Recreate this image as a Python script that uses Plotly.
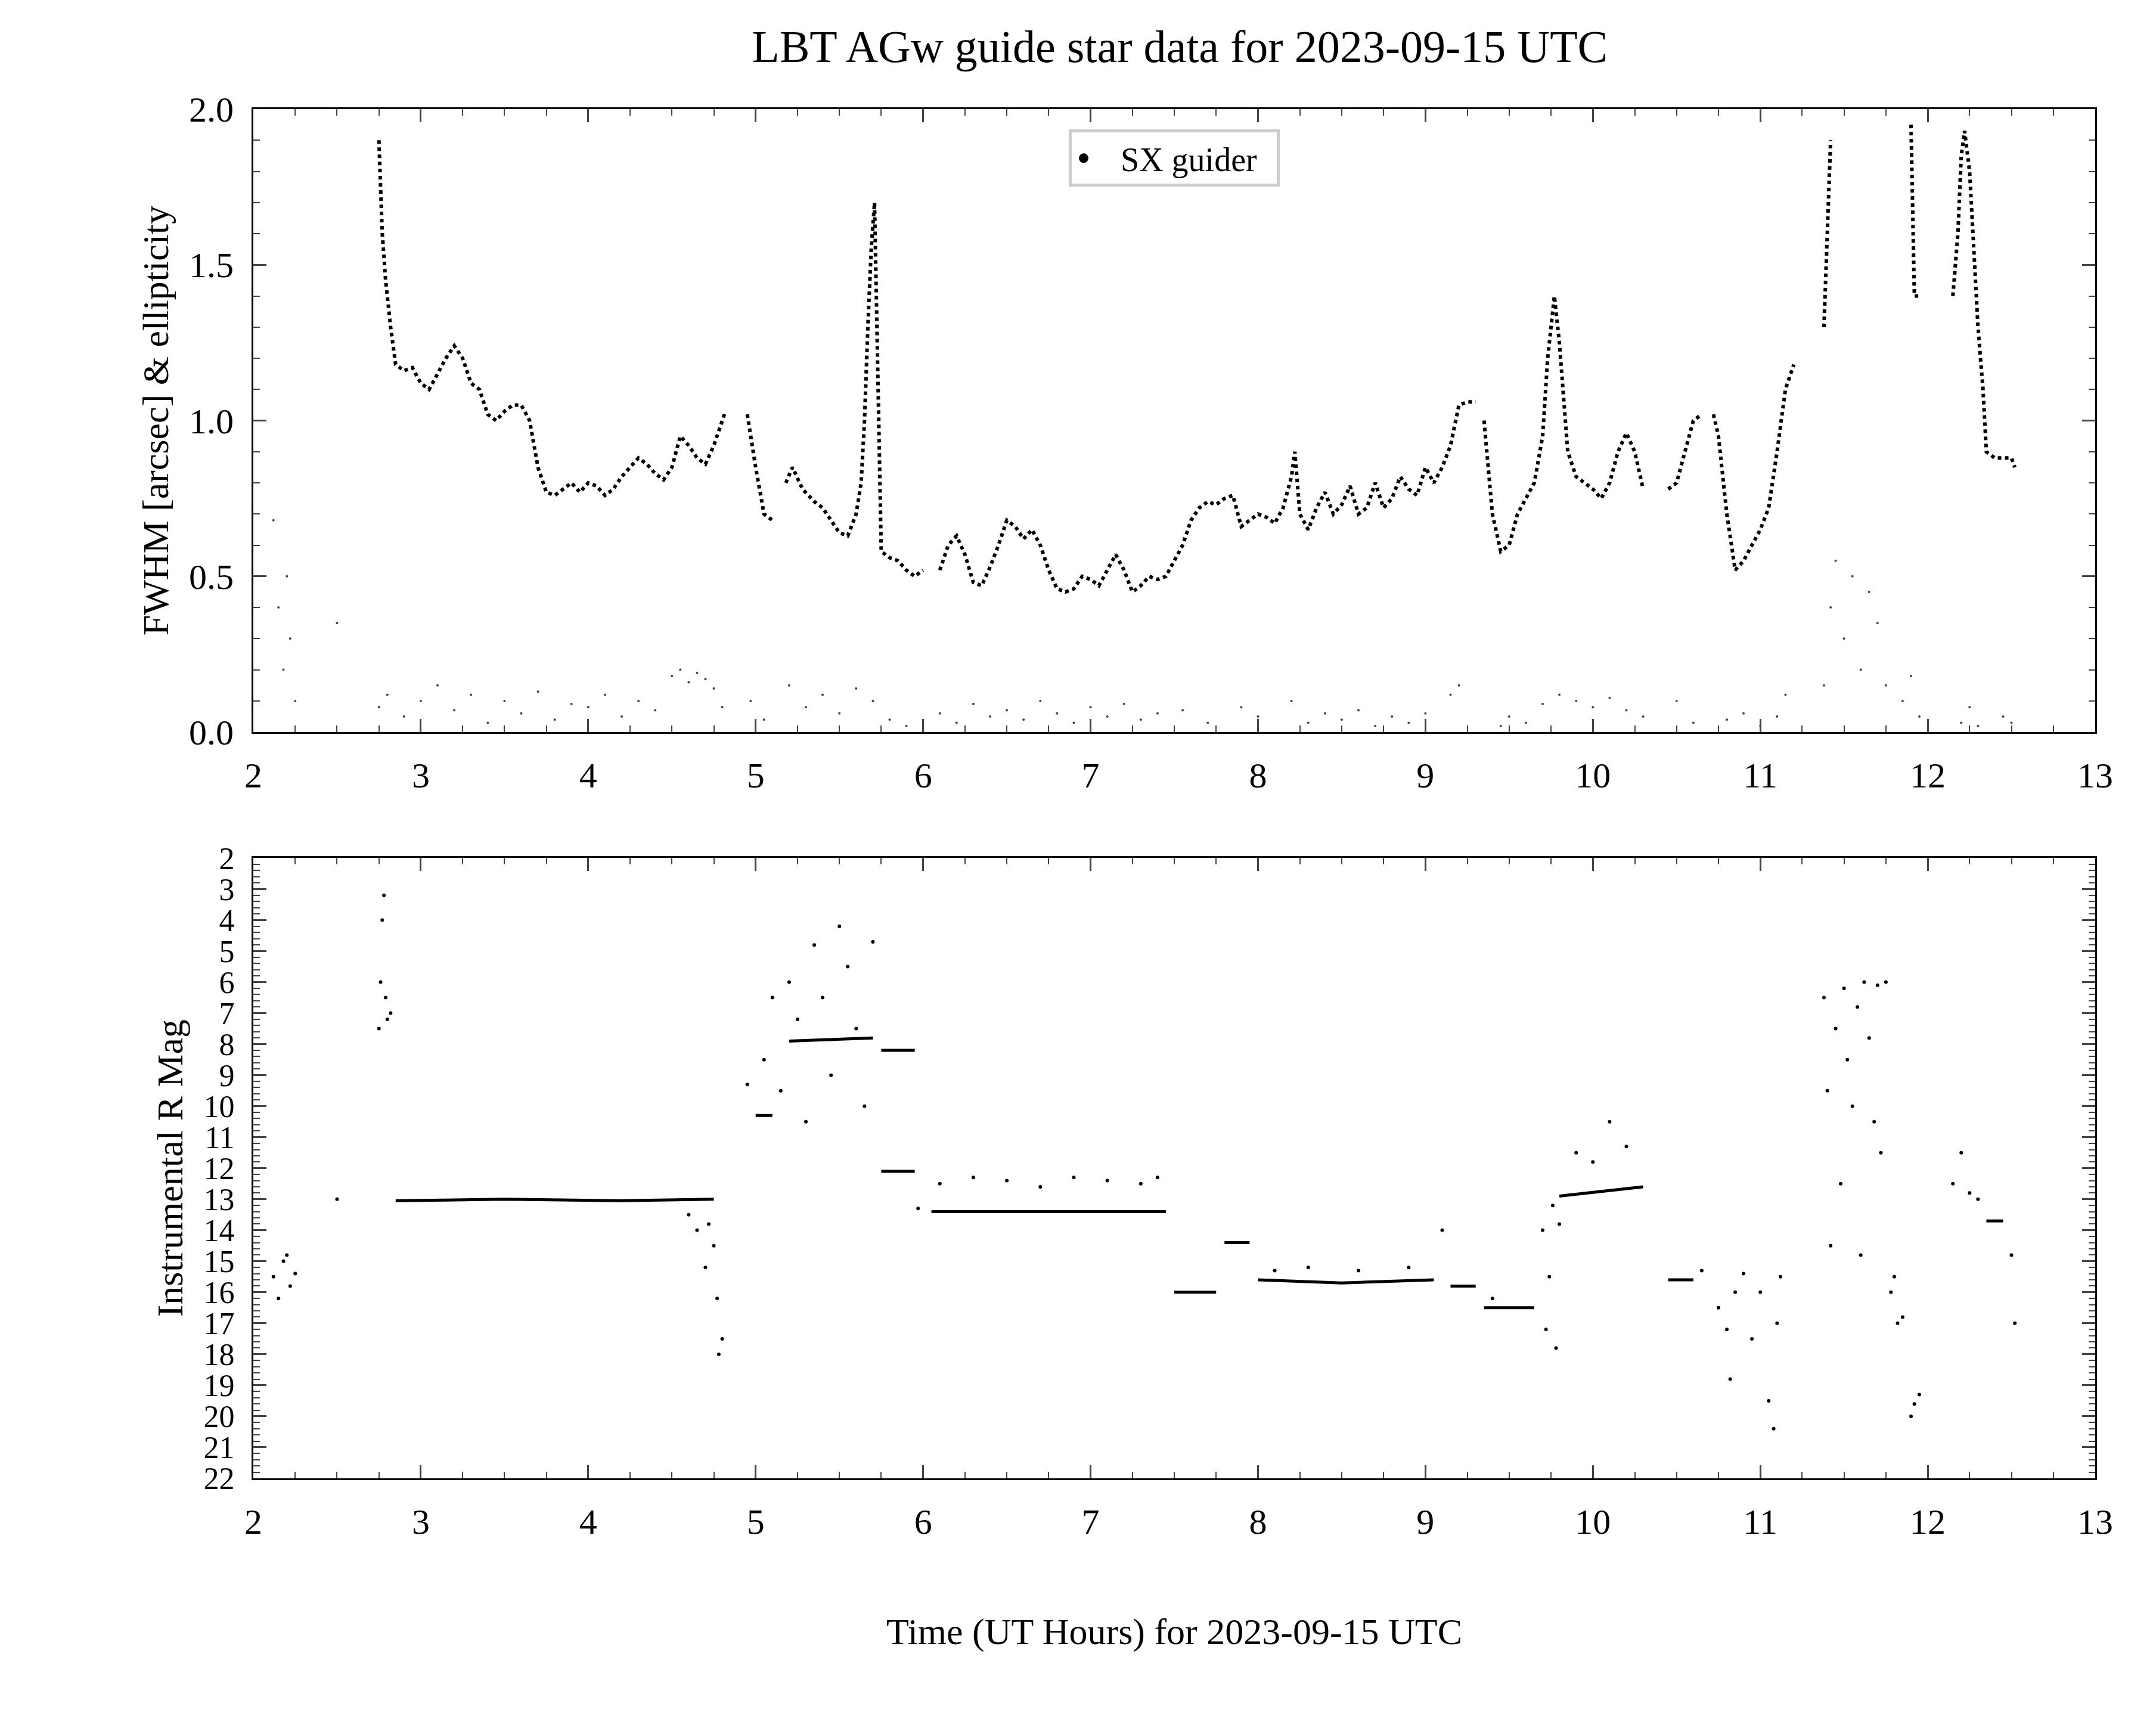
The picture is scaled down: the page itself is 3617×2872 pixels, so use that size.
import plotly.graph_objects as go
from plotly.subplots import make_subplots

# FWHM curve (UT hours, arcsec); None marks gaps
fwhm_t = [2.75, 2.77, 2.79, 2.82, 2.85, 2.9, 2.95, 3.0, 3.05, 3.1, 3.15, 3.2, 3.25, 3.3, 3.35, 3.4, 3.45, 3.5,
          3.55, 3.6, 3.65, 3.7, 3.75, 3.8, 3.85, 3.9, 3.95, 4.0, 4.05, 4.1, 4.15, 4.2, 4.25, 4.3, 4.35, 4.4,
          4.45, 4.5, 4.55, 4.6, 4.65, 4.7, 4.75, 4.8, 4.82, None,
          4.95, 5.0, 5.05, 5.1, None,
          5.18, 5.22, 5.28, 5.35, 5.4, 5.45, 5.5, 5.55, 5.6, 5.63, 5.65, 5.67, 5.69, 5.71, 5.73, 5.75, 5.8,
          5.85, 5.9, 5.95, 6.0, None,
          6.1, 6.15, 6.2, 6.25, 6.3, 6.35, 6.4, 6.45, 6.5, 6.55, 6.6, 6.65, 6.7, 6.75, 6.8, 6.85, 6.9, 6.95,
          7.0, 7.05, 7.1, 7.15, 7.2, 7.25, 7.3, 7.35, 7.4, 7.45, 7.5, 7.55, 7.6, 7.65, 7.7, 7.75, 7.8, 7.85,
          7.9, 7.95, 8.0, 8.05, 8.1, 8.15, 8.2, 8.22, 8.25, 8.3, 8.35, 8.4, 8.45, 8.5, 8.55, 8.6, 8.65, 8.7,
          8.75, 8.8, 8.85, 8.9, 8.95, 9.0, 9.05, 9.1, 9.15, 9.2, 9.25, 9.3, None,
          9.35, 9.4, 9.45, 9.5, 9.55, 9.6, 9.65, 9.7, 9.73, 9.77, 9.8, 9.85, 9.9, 9.95, 10.0, 10.05, 10.1,
          10.15, 10.2, 10.25, 10.3, None,
          10.45, 10.5, 10.55, 10.6, 10.65, None, 10.72, 10.75, 10.8, 10.85, 10.9, 10.95, 11.0, 11.05, 11.1,
          11.15, 11.2, None,
          11.38, 11.4, 11.42, None, 11.9, 11.92, 11.95, None,
          12.15, 12.18, 12.2, 12.22, 12.25, 12.3, 12.33, 12.35, 12.4, 12.45, 12.5, 12.52]
fwhm = [1.9, 1.6, 1.45, 1.3, 1.18, 1.16, 1.17, 1.12, 1.1, 1.15, 1.2, 1.24, 1.2, 1.12, 1.1, 1.02, 1.0, 1.03,
        1.05, 1.05, 1.0, 0.85, 0.77, 0.76, 0.78, 0.8, 0.77, 0.8, 0.79, 0.76, 0.78, 0.82, 0.85, 0.88, 0.86, 0.83,
        0.81, 0.85, 0.95, 0.92, 0.88, 0.86, 0.92, 1.0, 1.03, None,
        1.02, 0.85, 0.7, 0.68, None,
        0.8, 0.85, 0.78, 0.74, 0.72, 0.68, 0.64, 0.63, 0.7, 0.8, 1.0, 1.3, 1.55, 1.7, 1.2, 0.58, 0.56,
        0.55, 0.52, 0.5, 0.52, None,
        0.52, 0.6, 0.63, 0.57, 0.48, 0.47, 0.53, 0.6, 0.68, 0.66, 0.62, 0.65, 0.6, 0.52, 0.46, 0.45, 0.46, 0.5,
        0.49, 0.47, 0.52, 0.57, 0.52, 0.45, 0.47, 0.5, 0.49, 0.5, 0.55, 0.6, 0.68, 0.72, 0.74, 0.73, 0.75, 0.76,
        0.66, 0.68, 0.7, 0.69, 0.67, 0.72, 0.82, 0.9, 0.7, 0.65, 0.72, 0.77, 0.7, 0.73, 0.79, 0.7, 0.72, 0.8,
        0.72, 0.75, 0.82, 0.78, 0.76, 0.85, 0.8, 0.85, 0.92, 1.05, 1.06, 1.06, None,
        1.0, 0.7, 0.58, 0.6, 0.7, 0.75, 0.8, 0.95, 1.2, 1.4, 1.25, 0.9, 0.82, 0.8, 0.78, 0.75, 0.8,
        0.9, 0.96, 0.9, 0.78, None,
        0.78, 0.8, 0.9, 1.0, 1.02, None, 1.02, 0.95, 0.7, 0.52, 0.55, 0.6, 0.65, 0.72, 0.9,
        1.1, 1.18, None,
        1.3, 1.6, 1.9, None, 1.95, 1.4, 1.4, None,
        1.4, 1.6, 1.85, 1.93, 1.8, 1.3, 1.1, 0.9, 0.88, 0.88, 0.88, 0.85]

# ellipticity (grey points)
ell_t = [2.12, 2.15, 2.18, 2.2, 2.22, 2.25, 2.5, 2.75, 2.8, 2.9, 3.0, 3.1, 3.2, 3.3, 3.4, 3.5, 3.6, 3.7, 3.8,
         3.9, 4.0, 4.1, 4.2, 4.3, 4.4, 4.5, 4.55, 4.6, 4.65, 4.7, 4.75, 4.8, 4.97, 5.05, 5.2, 5.3, 5.4, 5.5,
         5.6, 5.7, 5.8, 5.9, 6.1, 6.2, 6.3, 6.4, 6.5, 6.6, 6.7, 6.8, 6.9, 7.0, 7.1, 7.2, 7.3, 7.4, 7.55, 7.7,
         7.9, 8.0, 8.2, 8.3, 8.4, 8.5, 8.6, 8.7, 8.8, 8.9, 9.0, 9.15, 9.2, 9.45, 9.5, 9.6, 9.7, 9.8, 9.9, 10.0,
         10.1, 10.2, 10.3, 10.5, 10.6, 10.8, 10.9, 11.0, 11.1, 11.15, 11.38, 11.42, 11.45, 11.5, 11.55, 11.6,
         11.65, 11.7, 11.75, 11.85, 11.9, 11.95, 12.2, 12.25, 12.3, 12.45, 12.5]
ell = [0.68, 0.4, 0.2, 0.5, 0.3, 0.1, 0.35, 0.08, 0.12, 0.05, 0.1, 0.15, 0.07, 0.12, 0.03, 0.1, 0.06, 0.13, 0.04,
       0.09, 0.08, 0.12, 0.05, 0.1, 0.07, 0.18, 0.2, 0.16, 0.19, 0.17, 0.14, 0.08, 0.1, 0.04, 0.15, 0.08, 0.12, 0.06,
       0.14, 0.1, 0.04, 0.02, 0.06, 0.03, 0.09, 0.05, 0.07, 0.04, 0.1, 0.06, 0.03, 0.08, 0.05, 0.09, 0.04, 0.06, 0.07,
       0.03, 0.08, 0.05, 0.1, 0.03, 0.06, 0.04, 0.07, 0.02, 0.05, 0.03, 0.06, 0.12, 0.15, 0.02, 0.05, 0.03, 0.09,
       0.12, 0.1, 0.08, 0.11, 0.07, 0.05, 0.1, 0.03, 0.04, 0.06, 0.02, 0.05, 0.12, 0.15, 0.4, 0.55, 0.3, 0.5, 0.2,
       0.45, 0.35, 0.15, 0.1, 0.18, 0.05, 0.03, 0.08, 0.02, 0.05, 0.03]

# instrumental magnitude: steady runs (lines, None = gap)
mag_base_t = [2.85, 3.5, 4.2, 4.75, None, 5.0, 5.1, None, 5.2, 5.7, None, 5.75, 5.95, None, 5.75, 5.95, None,
              6.05, 7.45, None, 7.5, 7.75, None, 7.8, 7.95, None, 8.0, 8.5, 9.05, None, 9.15, 9.3, None,
              9.35, 9.65, None, 9.8, 10.3, None, 10.45, 10.6, None, 12.35, 12.45]
mag_base = [13.05, 13.0, 13.05, 13.0, None, 10.3, 10.3, None, 7.9, 7.8, None, 8.2, 8.2, None, 12.1, 12.1, None,
            13.4, 13.4, None, 16.0, 16.0, None, 14.4, 14.4, None, 15.6, 15.7, 15.6, None, 15.8, 15.8, None,
            16.5, 16.5, None, 12.9, 12.6, None, 15.6, 15.6, None, 13.7, 13.7]
# scattered magnitude points
mag_t = [2.12, 2.15, 2.18, 2.2, 2.22, 2.25, 2.5, 2.75, 2.76, 2.77, 2.78, 2.79, 2.8, 2.82, 4.6, 4.65, 4.7, 4.72,
         4.75, 4.77, 4.78, 4.8, 4.95, 5.05, 5.1, 5.15, 5.2, 5.25, 5.3, 5.35, 5.4, 5.45, 5.5, 5.55, 5.6, 5.65,
         5.7, 5.97, 6.1, 6.3, 6.5, 6.7, 6.9, 7.1, 7.3, 7.4, 8.1, 8.3, 8.6, 8.9, 9.1, 9.4, 9.7, 9.72, 9.74,
         9.76, 9.78, 9.8, 9.9, 10.0, 10.1, 10.2, 10.65, 10.75, 10.8, 10.82, 10.85, 10.9, 10.95, 11.0, 11.05,
         11.08, 11.1, 11.12, 11.38, 11.4, 11.42, 11.45, 11.48, 11.5, 11.52, 11.55, 11.58, 11.6, 11.62, 11.65,
         11.68, 11.7, 11.72, 11.75, 11.78, 11.8, 11.82, 11.85, 11.9, 11.92, 11.95, 12.15, 12.2, 12.25, 12.3,
         12.5, 12.52]
mag = [15.5, 16.2, 15.0, 14.8, 15.8, 15.4, 13.0, 7.5, 6.0, 4.0, 3.2, 6.5, 7.2, 7.0, 13.5, 14.0, 15.2, 13.8,
       14.5, 16.2, 18.0, 17.5, 9.3, 8.5, 6.5, 9.5, 6.0, 7.2, 10.5, 4.8, 6.5, 9.0, 4.2, 5.5, 7.5, 10.0,
       4.7, 13.3, 12.5, 12.3, 12.4, 12.6, 12.3, 12.4, 12.5, 12.3, 15.3, 15.2, 15.3, 15.2, 14.0, 16.2, 14.0,
       17.2, 15.5, 13.2, 17.8, 13.8, 11.5, 11.8, 10.5, 11.3, 15.3, 16.5, 17.2, 18.8, 16.0, 15.4, 17.5, 16.0,
       19.5, 20.4, 17.0, 15.5, 6.5, 9.5, 14.5, 7.5, 12.5, 6.2, 8.5, 10.0, 6.8, 14.8, 6.0, 7.8, 10.5, 6.1,
       11.5, 6.0, 16.0, 15.5, 17.0, 16.8, 20.0, 19.6, 19.3, 12.5, 11.5, 12.8, 13.0, 14.8, 17.0]

font = "Liberation Serif"
fig = make_subplots(rows=2, cols=1, vertical_spacing=0.09)
fig.add_trace(go.Scatter(x=ell_t, y=ell, mode="markers", marker=dict(color="#444444", size=4),
                         showlegend=False), row=1, col=1)
fig.add_trace(go.Scatter(x=fwhm_t, y=fwhm, mode="lines", line=dict(color="black", width=6, dash="dot"),
                         showlegend=False), row=1, col=1)
fig.add_trace(go.Scatter(x=[None], y=[None], mode="markers", marker=dict(color="black", size=16),
                         name="   SX guider  "), row=1, col=1)
fig.add_trace(go.Scatter(x=mag_base_t, y=mag_base, mode="lines", line=dict(color="black", width=5),
                         showlegend=False), row=2, col=1)
fig.add_trace(go.Scatter(x=mag_t, y=mag, mode="markers", marker=dict(color="black", size=6),
                         showlegend=False), row=2, col=1)

axis_style = dict(ticks="inside", mirror="ticks", showline=True, linecolor="black", linewidth=3,
                  ticklen=22, tickwidth=3, showgrid=False, zeroline=False,
                  tickfont=dict(size=60), ticklabelstandoff=18)
fig.update_xaxes(range=[2, 13], dtick=1, minor=dict(ticks="inside", dtick=0.25, ticklen=11, tickwidth=2),
                 **axis_style)
fig.update_yaxes(**axis_style)
fig.update_yaxes(range=[0, 2], dtick=0.5, tickformat=".1f",
                 minor=dict(ticks="inside", dtick=0.1, ticklen=11, tickwidth=2),
                 title=dict(text="FWHM [arcsec] & ellipticity", font=dict(size=62)), row=1, col=1)
fig.update_yaxes(range=[22, 2], dtick=1, tickfont=dict(size=52),
                 minor=dict(ticks="inside", dtick=0.2, ticklen=11, tickwidth=2),
                 title=dict(text="Instrumental R Mag", font=dict(size=62)), row=2, col=1)
fig.update_xaxes(title=dict(text="Time (UT Hours) for 2023-09-15 UTC", font=dict(size=62), standoff=130),
                 row=2, col=1)

fig.update_layout(
    width=3617, height=2872, plot_bgcolor="white", paper_bgcolor="white",
    font=dict(family=font, color="black"),
    margin=dict(l=417, r=110, t=175, b=400),
    title=dict(text="LBT AGw guide star data for 2023-09-15 UTC", x=0.545, xanchor="center",
               y=0.985, font=dict(size=76)),
    legend=dict(x=0.5, y=0.985, xanchor="center", yanchor="top", bordercolor="#cccccc", borderwidth=5,
                font=dict(size=56), bgcolor="white"),
)
fig.update_yaxes(domain=[0.545, 1], row=1, col=1)
fig.update_yaxes(domain=[0, 0.453], row=2, col=1)
fig.write_html("out.html")
